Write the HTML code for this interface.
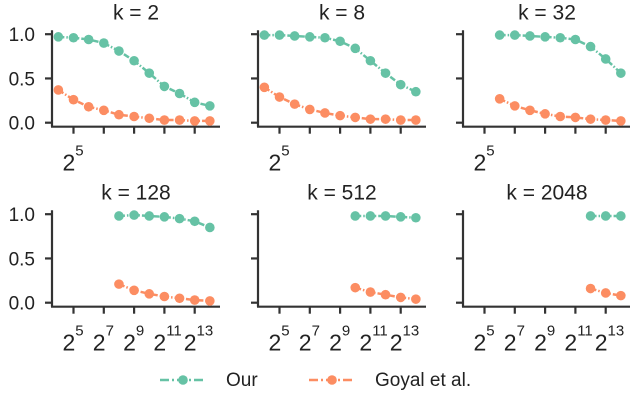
<!DOCTYPE html>
<html><head><meta charset="utf-8">
<style>
body{margin:0;background:#fff;}
svg{display:block;font-family:"Liberation Sans",Arial,sans-serif;}
</style></head>
<body>
<svg id="chart" width="630" height="408" viewBox="0 0 630 408" xmlns="http://www.w3.org/2000/svg"></svg>
<script>
const panelTitles = ["k = 2","k = 8","k = 32","k = 128","k = 512","k = 2048"];
const startPow = [4,4,6,8,10,12];
const ourValues = [
 [0.97,0.96,0.94,0.90,0.81,0.70,0.56,0.41,0.33,0.23,0.19],
 [0.99,0.99,0.98,0.97,0.96,0.92,0.84,0.70,0.56,0.43,0.35],
 [0.99,0.99,0.98,0.97,0.96,0.94,0.86,0.72,0.56],
 [0.98,0.99,0.98,0.97,0.95,0.92,0.85],
 [0.98,0.98,0.98,0.97,0.96],
 [0.98,0.98,0.98]
];
const goyalValues = [
 [0.37,0.26,0.18,0.14,0.09,0.07,0.05,0.03,0.03,0.02,0.02],
 [0.40,0.29,0.21,0.15,0.11,0.08,0.06,0.04,0.04,0.03,0.03],
 [0.27,0.19,0.14,0.10,0.07,0.06,0.04,0.03,0.02],
 [0.21,0.14,0.10,0.07,0.05,0.03,0.02],
 [0.17,0.12,0.09,0.06,0.04],
 [0.16,0.11,0.08]
];
const yTicks = [0,0.5,1.0];
const yTickLabels = ["0.0","0.5","1.0"];
const xTickPows = [5,7,9,11,13];

const NS="http://www.w3.org/2000/svg";
const svg=document.getElementById('chart');
function mk(tag,attrs,parent){const e=document.createElementNS(NS,tag);for(const k in attrs)e.setAttribute(k,attrs[k]);(parent||svg).appendChild(e);return e;}
const COL_OUR="#66c2a5", COL_G="#fc8d62", AX="#333";
const panelX=[52,258,463], panelY0=[122.7,302.7];
for(let i=0;i<6;i++){
  const col=i%3,row=Math.floor(i/3);
  const ax0=panelX[col], y0=panelY0[row];
  const xs=p=>ax0+21.5+(p-5)*15.15;
  const ys=v=>y0-v*88.5;
  const g=mk('g',{});
  
  
  const t=mk('text',{x:ax0+84,y:y0-103,'font-size':21,'text-anchor':'middle',fill:'#222'},g);
  t.textContent=panelTitles[i];
  
  
  const axY=y0+4;
  const yl=mk('line',{x1:ax0,y1:axY,x2:ax0,y2:ys(1)-4,stroke:AX,'stroke-width':2.2},g);
  
  
  const xl=mk('line',{x1:ax0-1,y1:axY,x2:ax0+168,y2:axY,stroke:AX,'stroke-width':2.2},g);
  
  
  yTicks.forEach((v,j)=>{
    mk('line',{x1:ax0-7,y1:ys(v),x2:ax0,y2:ys(v),stroke:AX,'stroke-width':2.2},g);
    if(col===0){const lt=mk('text',{x:ax0-17,y:ys(v)+7,'font-size':19,'text-anchor':'end',fill:'#222'},g);lt.textContent=yTickLabels[j];
      
      }
  });
  xTickPows.forEach(p=>{
    mk('line',{x1:xs(p),y1:axY,x2:xs(p),y2:axY+7,stroke:AX,'stroke-width':2.2},g);
    if(row===1||p===5){
      const xt=mk('text',{x:xs(p)-11,y:axY+44,'font-size':23,fill:'#222'},g);
      xt.textContent='2';
      const ts=mk('tspan',{dy:-15,'font-size':15},xt);ts.textContent=String(p);
      
      
    }
  });
  [[ourValues[i],COL_OUR,'our'],[goyalValues[i],COL_G,'goyal']].forEach(([vals,c,nm])=>{
    const pts=vals.map((v,j)=>[xs(startPow[i]+j),ys(v)]);
    const pl=mk('polyline',{points:pts.map(p=>p.join(',')).join(' '),fill:'none',stroke:c,'stroke-width':2.5,'stroke-dasharray':'6 2 1.5 2'},g);
    
    
    pts.forEach(p=>{const cc=mk('circle',{cx:p[0],cy:p[1],r:4.8,fill:c},g);
      
      });
  });
}
const lg=mk('g',{});


[[160,COL_OUR,'Our'],[309,COL_G,'Goyal et al.']].forEach(([x,c,label])=>{
  const e=mk('g',{},lg);
  
  
  mk('line',{x1:x,y1:380,x2:x+46,y2:380,stroke:c,'stroke-width':2.5,'stroke-dasharray':'9 3 2 3'},e);
  mk('circle',{cx:x+23,cy:380,r:4.8,fill:c},e);
  const tx=mk('text',{x:x+66,y:386,'font-size':19,fill:'#222'},e);tx.textContent=label;
});
</script>
</body></html>
